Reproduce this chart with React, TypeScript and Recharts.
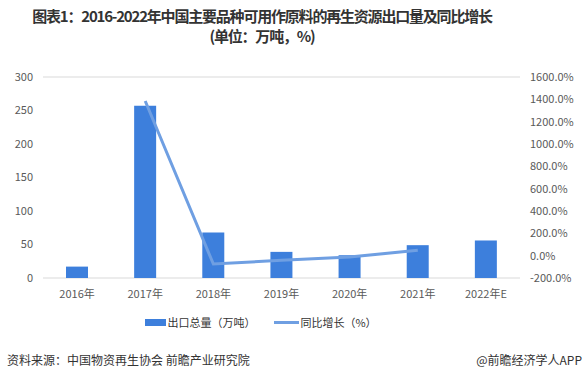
import React from "react";
import { ComposedChart, Bar, Line, XAxis, YAxis, CartesianGrid } from "recharts";

const categories = ["2016年", "2017年", "2018年", "2019年", "2020年", "2021年", "2022年E"];
const exportVolume = [17, 257, 68, 39, 34, 49, 56];
const yoyGrowth: (number | null)[] = [null, 1385, -75, -42, -12, 48, null];
const leftTicks = [0, 50, 100, 150, 200, 250, 300];
const rightTicks = [-200, 0, 200, 400, 600, 800, 1000, 1200, 1400, 1600];

const titleLine1 = "图表1：2016-2022年中国主要品种可用作原料的再生资源出口量及同比增长";
const titleLine2 = "(单位：万吨，%)";
const sourceText = "资料来源：中国物资再生协会 前瞻产业研究院";
const brandText = "@前瞻经济学人APP";
const legendBar = "出口总量（万吨）";
const legendLine = "同比增长（%）";

const BAR_COLOR = "#3d7fdc";
const LINE_COLOR = "#6f9fe2";
const FONT = "'Noto Sans CJK SC', 'Noto Sans', sans-serif";

const data = categories.map((c, i) => ({
  name: c,
  volume: exportVolume[i],
  growth: yoyGrowth[i],
}));

export default function App() {
  return (
    <div style={{ position: "absolute", left: 0, top: 0, width: 588, height: 381, background: "#fff", fontFamily: FONT }}>
      <div style={{ position: "absolute", left: 0, width: 524, top: 6, textAlign: "center", fontWeight: 700, fontSize: 15, lineHeight: "20px", color: "#333", letterSpacing: -1.2 }}>
        <div>{titleLine1}</div>
        <div>{titleLine2}</div>
      </div>
      <ComposedChart width={588} height={381} data={data} margin={{ top: 77, right: 0, bottom: 73, left: 0 }}>
        <CartesianGrid vertical={false} stroke="#d9d9d9" />
        <XAxis dataKey="name" axisLine={false} tickLine={false} tickSize={0} tickMargin={12} height={30}
          tick={{ fontSize: 11, fill: "#595959", fontFamily: FONT }} interval={0} />
        <YAxis yAxisId="left" domain={[0, 300]} ticks={leftTicks} width={43} axisLine={false} tickLine={false}
          tickSize={0} tickMargin={10} tick={{ fontSize: 11, fill: "#595959", fontFamily: FONT }} />
        <YAxis yAxisId="right" orientation="right" domain={[-200, 1600]} ticks={rightTicks} width={68}
          axisLine={false} tickLine={false} tickSize={0} tickMargin={10}
          tickFormatter={(v: number) => `${v.toFixed(1)}%`}
          tick={{ fontSize: 11, fill: "#595959", fontFamily: FONT, textAnchor: "start" }} />
        <Bar yAxisId="left" dataKey="volume" fill={BAR_COLOR} barSize={22} isAnimationActive={false} />
        <Line yAxisId="right" dataKey="growth" stroke={LINE_COLOR} strokeWidth={3} dot={false}
          activeDot={false} isAnimationActive={false} connectNulls={false} />
      </ComposedChart>
      <div style={{ position: "absolute", left: 0, width: 522, top: 313, display: "flex", justifyContent: "center", alignItems: "center", fontSize: 11, color: "#333", lineHeight: "18px" }}>
        <span style={{ display: "inline-block", width: 21, height: 7, background: BAR_COLOR, marginRight: 1 }} />
        <span style={{ marginRight: 19 }}>{legendBar}</span>
        <span style={{ display: "inline-block", width: 25, height: 3, background: LINE_COLOR, marginRight: 1 }} />
        <span>{legendLine}</span>
      </div>
      <div style={{ position: "absolute", left: 7, top: 351, fontSize: 12, color: "#333" }}>{sourceText}</div>
      <div style={{ position: "absolute", right: 6, top: 351, fontSize: 12, color: "#333" }}>{brandText}</div>
    </div>
  );
}
